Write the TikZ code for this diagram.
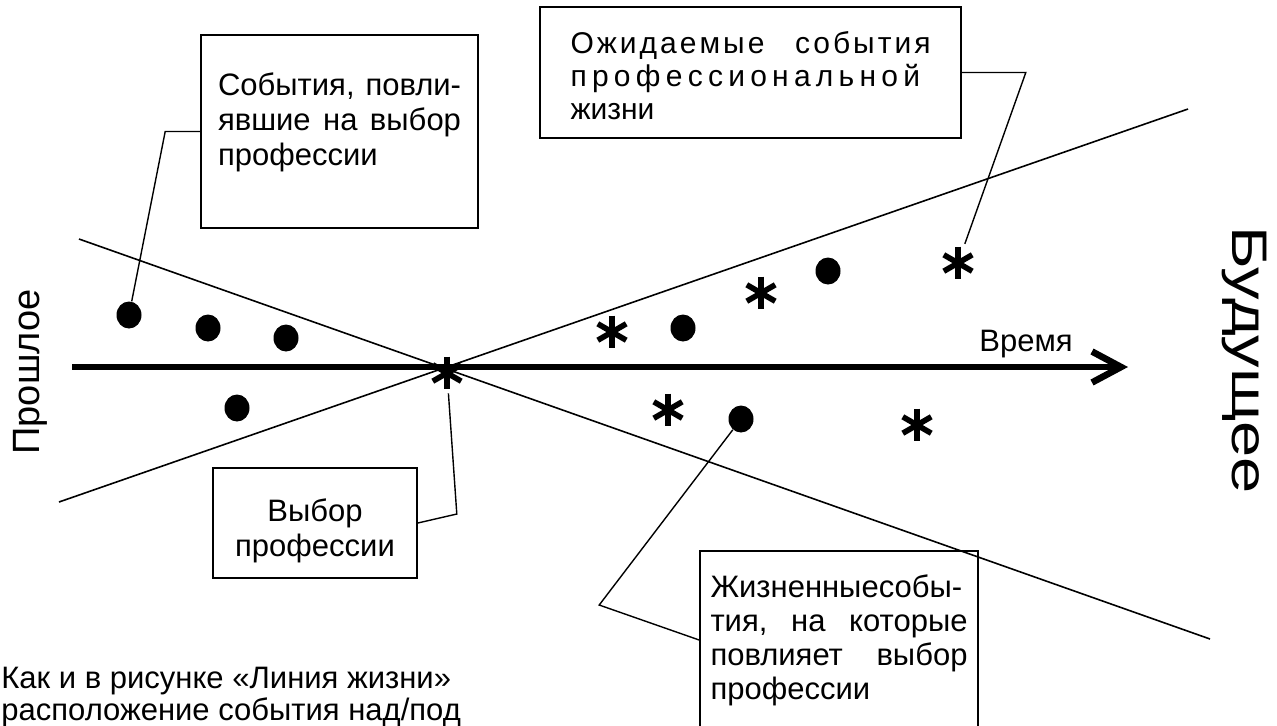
\documentclass[tikz,border=0pt]{standalone}
\usepackage{fontspec}
\setmainfont{Liberation Sans}
\newfontfamily\spacedfont[LetterSpace=10]{Liberation Sans}
\newfontfamily\widespacedfont[LetterSpace=17.5]{Liberation Sans}
\newfontfamily\stretchfont[FakeStretch=1.3]{Liberation Sans}
\usetikzlibrary{arrows.meta,shapes.geometric}
\begin{document}
\begin{tikzpicture}[x=0.5pt, y=-0.5pt,
    every node/.style={font=\fontsize{15.5pt}{17.5pt}\selectfont},
    evdot/.style={ellipse, fill, inner sep=0pt, minimum width=12.5pt, minimum height=13.5pt},
    starev/.style={circle, inner sep=0pt, minimum size=20pt, path picture={
        \foreach \a in {90,30,-30}
          \draw[line width=2.8pt] (path picture bounding box.center) ++(\a:8.2pt) -- ++(\a:-16.4pt);}},
    notebox/.style={draw, line width=0.8pt},
    leader/.style={line width=0.7pt}]
    \useasboundingbox (0,0) rectangle (1277,725);

    \draw[line width=0.8pt] (59,502) -- (1188,109);
    \draw[line width=0.8pt] (79,239) -- (1210,639);

    \coordinate (tstart) at (72,367);
    \coordinate (tend) at (1128,367);
    \draw[line width=3.3pt, -{Straight Barb[length=14.5pt, width=15.5pt]}] (tstart) -- (tend);
    \node (timelbl) at (1026,344) {Время};

    \node[rotate=90, font=\fontsize{19pt}{19pt}\selectfont] (past) at (30,372) {Прошлое};
    \node[rotate=-90, font=\stretchfont\fontsize{25pt}{25pt}\selectfont] (future) at (1244,360) {Будущее};

    \node[evdot] (pastA) at (129,315) {};
    \node[evdot] (pastB) at (208,328) {};
    \node[evdot] (pastC) at (286,338) {};
    \node[evdot] (pastD) at (237,408) {};
    \node[starev] (choice) at (447,373) {};
    \node[starev] (upA) at (612,332) {};
    \node[evdot] (upB) at (683,328) {};
    \node[starev] (upC) at (761,293) {};
    \node[evdot] (upD) at (828,271) {};
    \node[starev] (upE) at (958,263) {};
    \node[starev] (lowA) at (668,410) {};
    \node[evdot] (lowB) at (741,419) {};
    \node[starev] (lowC) at (917,425) {};

    \node[notebox, minimum width=138.5pt, minimum height=96.5pt, text width=121.5pt, align=left] (influence) at (339.5,131.5)
      {\makebox[121.5pt][s]{События,\hfill повли-}\\ \makebox[121.5pt][s]{явшие\hfill на\hfill выбор}\\ профессии\rule[-12pt]{0pt}{12pt}};
    \node[notebox, minimum width=210.5pt, minimum height=65.5pt, text width=180pt, align=left, font=\fontsize{15pt}{16.5pt}\selectfont] (expected) at (750.5,72.5)
      {\rule{0pt}{14pt}\makebox[180pt][s]{\spacedfont Ожидаемые\hfill события}\\ \makebox[180pt][s]{\widespacedfont профессиональной}\\ жизни};
    \node[notebox, minimum width=102pt, minimum height=55pt, align=center] (choicebox) at (315,523)
      {\rule{0pt}{19pt}Выбор\\профессии};
    \node[notebox, minimum width=139pt, minimum height=89pt, text width=128.5pt, align=left, font=\fontsize{15.5pt}{17pt}\selectfont] (affected) at (839,640)
      {Жизненныесобы-\\ \makebox[128.5pt][s]{тия,\hfill на\hfill которые}\\ \makebox[128.5pt][s]{повлияет\hfill выбор}\\ профессии};

    \draw[leader] (influence.west) -- ++(-35,0) -- (pastA);
    \draw[leader] (expected.east) -- ++(64,0) -- (upE);
    \draw[leader] (choicebox.east) -- ++(39,-9) -- (choice);
    \draw[leader] (affected.west) -- ++(-100,-35) -- (lowB);

    \node[anchor=north west, inner sep=0pt, align=left, font=\fontsize{15.5pt}{16pt}\selectfont] (caption) at (1,667)
      {Как и в рисунке «Линия жизни»\\расположение события над/под};
\end{tikzpicture}
\end{document}
